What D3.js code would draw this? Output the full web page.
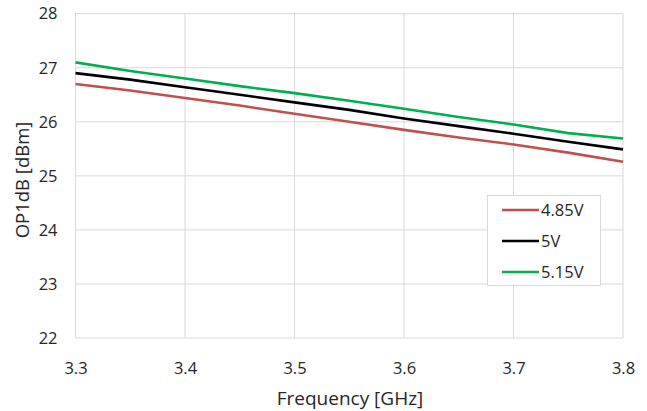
<!DOCTYPE html>
<html><head><meta charset="utf-8">
<script src="https://cdn.jsdelivr.net/npm/d3@7"></script>
<style>body{margin:0;background:#fff}svg{display:block}text{font-family:"Open Sans",sans-serif}</style>
</head><body>
<svg id="c" width="647" height="411"></svg>
<script>
const freq = [3.3,3.35,3.4,3.45,3.5,3.55,3.6,3.65,3.7,3.75,3.8];
const v485 = [26.70,26.58,26.44,26.30,26.15,26.00,25.85,25.71,25.58,25.43,25.26];
const v500 = [26.90,26.78,26.64,26.50,26.36,26.22,26.06,25.92,25.78,25.63,25.49];
const v515 = [27.10,26.94,26.80,26.66,26.53,26.39,26.24,26.09,25.95,25.79,25.69];
const seriesNames = ["4.85V","5V","5.15V"];
const seriesColors = ["#c0504d","#000000","#00b050"];
const xTicks = [3.3,3.4,3.5,3.6,3.7,3.8];
const yTicks = [22,23,24,25,26,27,28];

const svg = d3.select("#c");
const L=75.5,R=623,T=13.7,B=338;
const x = d3.scaleLinear().domain([3.3,3.8]).range([L,R]);
const y = d3.scaleLinear().domain([22,28]).range([B,T]);
const grid="#d9d9d9", txt="#262626";

const g = svg.append("g");
g.selectAll(".hg").data(yTicks).enter().append("line")
 .attr("x1",L).attr("x2",R).attr("y1",d=>y(d)).attr("y2",d=>y(d))
 .attr("stroke",grid).attr("stroke-width",1);
g.selectAll(".vg").data(xTicks).enter().append("line")
 .attr("y1",T).attr("y2",B).attr("x1",d=>x(d)).attr("x2",d=>x(d))
 .attr("stroke",grid).attr("stroke-width",1);

const xa = svg.append("g").attr("transform",`translate(0,${B})`)
 .call(d3.axisBottom(x).tickValues(xTicks).tickSize(0).tickPadding(21).tickFormat(d3.format(".1f")));
const ya = svg.append("g").attr("transform",`translate(${L},0)`)
 .call(d3.axisLeft(y).tickValues(yTicks).tickSize(0).tickPadding(18).tickFormat(d3.format("d")));
[xa,ya].forEach(a=>{a.select(".domain").remove();a.selectAll("text").attr("font-size",16.5).attr("fill",txt).style("font-family","'Open Sans',sans-serif");});
xa.selectAll("text").attr("dy","0.9em");

const data=[v485,v500,v515];
const line=d3.line().x((d,i)=>x(freq[i])).y(d=>y(d));
data.forEach((s,k)=>{
 svg.append("path").datum(s).attr("d",line).attr("fill","none")
  .attr("stroke",seriesColors[k]).attr("stroke-width",2.6).attr("stroke-linejoin","round");
});

svg.append("text").attr("x",350).attr("y",405).attr("text-anchor","middle")
 .attr("font-size",19).attr("fill",txt).text("Frequency [GHz]");
svg.append("text").attr("transform",`translate(29,180) rotate(-90)`).attr("text-anchor","middle")
 .attr("font-size",18.5).attr("fill",txt).text("OP1dB [dBm]");

const lg=svg.append("g");
lg.append("rect").attr("x",487.5).attr("y",195.5).attr("width",113).attr("height",90)
 .attr("fill","#fff").attr("stroke",grid).attr("stroke-width",1);
const ly=d3.scalePoint().domain(seriesNames).range([210,272]);
seriesNames.forEach((n,k)=>{
 lg.append("line").attr("x1",502).attr("x2",539).attr("y1",ly(n)).attr("y2",ly(n))
  .attr("stroke",seriesColors[k]).attr("stroke-width",2.6);
 lg.append("text").attr("x",541).attr("y",ly(n)).attr("dy","0.35em").attr("font-size",16.5)
  .attr("fill",txt).text(n);
});
</script>
</body></html>
